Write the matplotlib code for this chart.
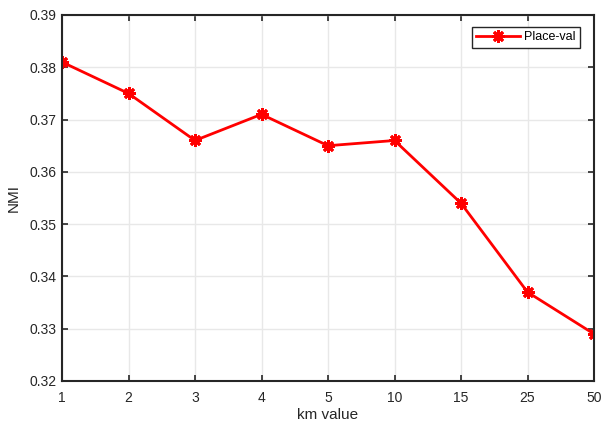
import matplotlib
matplotlib.use("Agg")
import matplotlib.pyplot as plt

categories = ["1", "2", "3", "4", "5", "10", "15", "25", "50"]
nmi_values = [0.381, 0.375, 0.366, 0.371, 0.365, 0.366, 0.354, 0.337, 0.329]
y_ticks = [0.32, 0.33, 0.34, 0.35, 0.36, 0.37, 0.38, 0.39]

plt.rcParams['font.family'] = ['Liberation Sans', 'DejaVu Sans']

fig = plt.figure(figsize=(6.02, 4.24), dpi=100)
ax = fig.add_axes([62/602, 1 - 381/424, (594-62)/602, (381-15)/424])

x = list(range(1, len(categories) + 1))
ax.plot(x, nmi_values, '-', color='#ff0000', linewidth=2, marker=(8, 2, 0),
        markersize=9, markeredgewidth=2, markeredgecolor='#ff0000',
        markerfacecolor='#ff0000', label='Place-val')

ax.set_xlim(1, len(categories))
ax.set_ylim(0.32, 0.39)
ax.set_xticks(x)
ax.set_xticklabels(categories)
ax.set_yticks(y_ticks)
ax.set_yticklabels([f"{v:.2f}" for v in y_ticks])
ax.grid(True, color='#e8e8e8', linewidth=1.0)
ax.set_axisbelow(True)
ax.tick_params(direction='in', top=True, right=True, length=4, width=1.2,
               labelsize=10, colors='#262626')
ax.tick_params(axis='x', pad=7)
ax.tick_params(axis='y', pad=4)
for s in ax.spines.values():
    s.set_linewidth(1.5)
    s.set_color('#262626')

ax.set_xlabel('km value', fontsize=11, color='#262626', labelpad=2.5)
ax.set_ylabel('NMI', fontsize=11, color='#262626', labelpad=6)

leg = ax.legend(loc='upper left', bbox_to_anchor=((472-62)/532, (381-27)/366),
                fontsize=9, fancybox=False, framealpha=1, edgecolor='#262626',
                handlelength=3.5, borderpad=0.35, handletextpad=0.3, borderaxespad=0)
leg.get_frame().set_linewidth(1.0)

fig.savefig('out.png', dpi=100)
